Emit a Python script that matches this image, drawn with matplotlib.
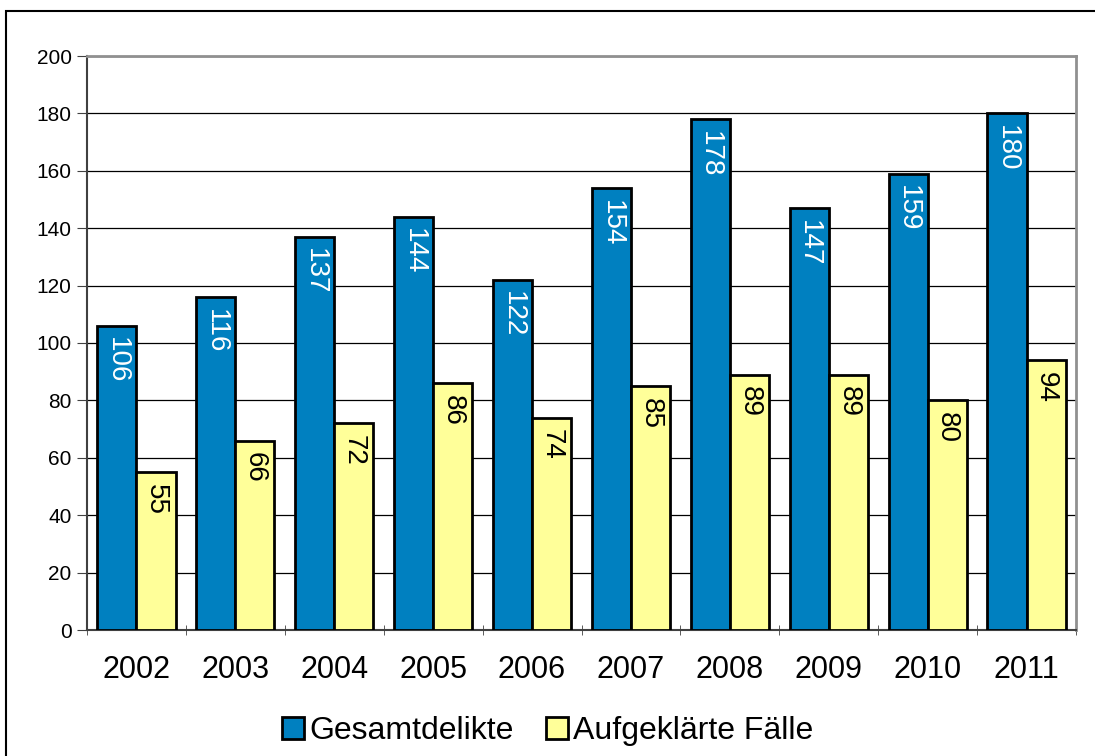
import numpy as np
import matplotlib.pyplot as plt
from matplotlib.patches import Rectangle

plt.rcParams['font.family'] = ['Liberation Sans', 'DejaVu Sans']

years = ['2002', '2003', '2004', '2005', '2006', '2007', '2008', '2009', '2010', '2011']
gesamt = [106, 116, 137, 144, 122, 154, 178, 147, 159, 180]
aufgeklaert = [55, 66, 72, 86, 74, 85, 89, 89, 80, 94]

blue = '#0080C0'
yellow = '#FFFF99'

fig = plt.figure(figsize=(10.95, 7.56), dpi=100)
ax = fig.add_axes([87 / 1095, 1 - 630 / 756, (1076 - 87) / 1095, (630 - 56) / 756])

# outer chart frame
fig.patches.append(Rectangle((6 / 1095, -0.05), 1.1, 1.05 - 11 / 756,
                             transform=fig.transFigure, fill=False,
                             edgecolor='black', linewidth=1.5, clip_on=False))

x = np.arange(len(years))
w = 0.395
b1 = ax.bar(x - w / 2, gesamt, w, color=blue, edgecolor='black', linewidth=2,
            label='Gesamtdelikte', zorder=3)
b2 = ax.bar(x + w / 2, aufgeklaert, w, color=yellow, edgecolor='black', linewidth=2,
            label='Aufgeklärte Fälle', zorder=3)

for bar, v in zip(b1, gesamt):
    ax.text(bar.get_x() + bar.get_width() / 2, v - 4, str(v), rotation=-90,
            ha='center', va='top', color='white', fontsize=20, zorder=4)
for bar, v in zip(b2, aufgeklaert):
    ax.text(bar.get_x() + bar.get_width() / 2, v - 4, str(v), rotation=-90,
            ha='center', va='top', color='black', fontsize=20, zorder=4)

ax.set_xlim(-0.5, len(years) - 0.5)
ax.set_ylim(0, 200)
ax.set_yticks(range(0, 201, 20))
ax.tick_params(axis='y', labelsize=15, length=7, direction='out', color='#404040', pad=4)
ax.yaxis.grid(True, color='black', linewidth=0.9, zorder=0)

ax.set_xticks(x)
ax.set_xticklabels(years, fontsize=22)
ax.tick_params(axis='x', length=0, pad=18)
ax.set_xticks(np.arange(-0.5, len(years)), minor=True)
ax.tick_params(axis='x', which='minor', length=7, direction='inout', color='#404040')

ax.spines['left'].set_color('#404040')
ax.spines['left'].set_linewidth(1.5)
ax.spines['bottom'].set_color('#404040')
ax.spines['bottom'].set_linewidth(1.5)
ax.spines['top'].set_color('#909090')
ax.spines['top'].set_linewidth(2)
ax.spines['right'].set_color('#909090')
ax.spines['right'].set_linewidth(2)

fig.legend(handles=[b1, b2], loc='center', bbox_to_anchor=(0.5, 1 - 731 / 756),
           ncol=2, frameon=False, fontsize=23, handlelength=0.7, handleheight=0.7,
           handletextpad=0.15, columnspacing=1.0)

fig.savefig('out.png', dpi=100)
